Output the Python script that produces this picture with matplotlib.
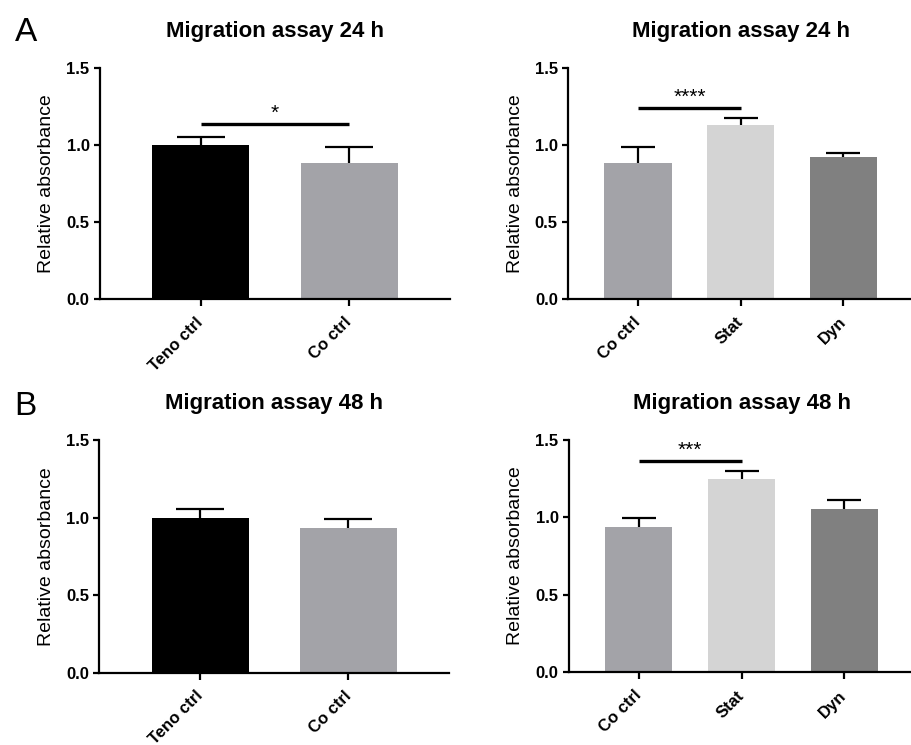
import numpy as np
import matplotlib
matplotlib.use("Agg")
import matplotlib.pyplot as plt

plt.rcParams['font.family'] = ['Liberation Sans', 'DejaVu Sans']

# Datos
#--------------------------------------
cats_2      = ["Teno ctrl", "Co ctrl"]
cats_3      = ["Co ctrl", "Stat", "Dyn"]
cols_2      = ["#000000", "#a3a3a8"]
cols_3      = ["#a3a3a8", "#d4d4d4", "#808080"]

mean_24_2   = [1.00, 0.88]
err_24_2    = [0.05, 0.11]
mean_24_3   = [0.88, 1.13, 0.92]
err_24_3    = [0.11, 0.045, 0.028]

mean_48_2   = [1.00, 0.935]
err_48_2    = [0.055, 0.057]
mean_48_3   = [0.935, 1.245, 1.055]
err_48_3    = [0.057, 0.053, 0.055]

yticks      = [0.0, 0.5, 1.0, 1.5]
#--------------------------------------

fig = plt.figure(figsize=(9.11, 7.45), dpi=100)

def panel(rect, cats, means, errs, cols, title, cap, sig=None):
    ax = fig.add_axes(rect)
    x = np.arange(len(cats))
    ax.bar(x, means, width=0.655, color=cols, zorder=2)
    eb = ax.errorbar(x, means, yerr=[np.zeros(len(errs)), errs], fmt='none',
                     ecolor='black', elinewidth=1.6, capsize=cap, capthick=1.6, zorder=1)
    # solo la barra de error superior
    eb[1][0].set_visible(False)
    ax.set_xlim(-0.68, len(cats) - 0.32)
    ax.set_ylim(0, 1.5)
    ax.set_yticks(yticks)
    ax.set_yticklabels(["%.1f" % v for v in yticks], fontsize=12, fontweight='bold')
    ax.set_xticks(x)
    ax.set_xticklabels(cats, fontsize=12, fontweight='bold', rotation=45,
                       ha='right', va='center', rotation_mode='anchor')
    for s in ['top', 'right']:
        ax.spines[s].set_visible(False)
    for s in ['left', 'bottom']:
        ax.spines[s].set_linewidth(1.6)
    ax.tick_params(axis='both', direction='out', length=4, width=1.6)
    ax.tick_params(axis='x', pad=10, length=5)
    ax.set_ylabel("Relative absorbance", fontsize=14, labelpad=8)
    ax.set_title(title, fontsize=16, fontweight='bold', pad=22)
    if sig is not None:
        i0, i1, yy, txt = sig
        ax.plot([i0, i1], [yy, yy], color='black', lw=2.4, solid_capstyle='butt')
        ax.text((i0 + i1) / 2, yy + 0.005, txt, ha='center', va='bottom', fontsize=15)
    return ax

panel([0.1098, 0.5987, 0.3842, 0.310], cats_2, mean_24_2, err_24_2, cols_2,
      "Migration assay 24 h", 17.5, (0, 1, 1.138, "*"))
panel([0.6238, 0.5987, 0.3787, 0.310], cats_3, mean_24_3, err_24_3, cols_3,
      "Migration assay 24 h", 12.5, (0, 1, 1.242, "****"))
panel([0.1090, 0.0970, 0.3842, 0.3124], cats_2, mean_48_2, err_48_2, cols_2,
      "Migration assay 48 h", 17.5)
panel([0.6246, 0.0976, 0.3787, 0.3124], cats_3, mean_48_3, err_48_3, cols_3,
      "Migration assay 48 h", 12.5, (0, 1, 1.362, "***"))

fig.text(0.016, 0.945, "A", fontsize=24)
fig.text(0.016, 0.443, "B", fontsize=24)

fig.savefig("out.png", dpi=100)
